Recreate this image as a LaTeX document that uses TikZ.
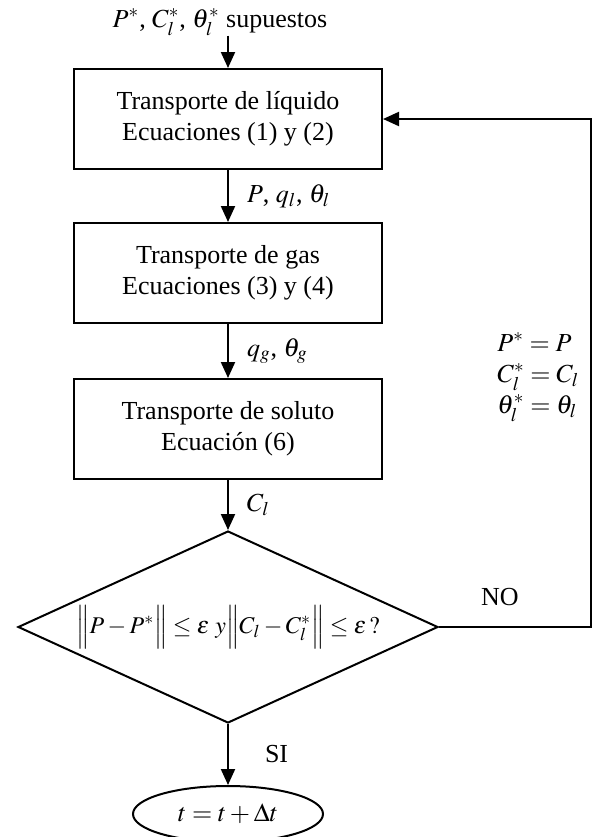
\documentclass[tikz,border=0pt,12pt]{standalone}
\usepackage{amsmath}
\usepackage{mathptmx}
\usepackage{fontspec}
\setmainfont{Liberation Serif}
\usepackage{tikz}
\usetikzlibrary{shapes.geometric, arrows.meta, positioning}
\tikzset{
  caja/.style={rectangle, draw=black, line width=1pt, fill=white,
               minimum width=154pt, minimum height=50pt, align=center,
               inner sep=2pt},
  decision/.style={diamond, draw=black, line width=1pt, aspect=2.2,
                   minimum width=210pt, minimum height=96pt, inner sep=0pt,
                   font=\fontsize{12pt}{14pt}\selectfont},
  fin/.style={ellipse, draw=black, line width=1pt,
              minimum width=95pt, minimum height=28pt, inner sep=0pt},
  flecha/.style={-{Triangle[length=8pt, width=7pt]}, line width=1pt},
  etiqueta/.style={right=9pt, inner sep=0pt},
}

\begin{document}
\begin{tikzpicture}[x=0.5pt, y=-0.5pt, font=\fontsize{13pt}{15.5pt}\selectfont]
  \useasboundingbox (0,0) rectangle (594,837);

  % Initial guess
  \node[inner sep=0pt] (sup) at (220,22)
    {$P^{*}$, $C_l^{*}$, $\theta_l^{*}$ supuestos};

  % Boxes
  \node[caja] (liq) at (228,119)
    {Transporte de líquido\\Ecuaciones (1) y (2)};
  \node[caja, below=26pt of liq] (gas)
    {Transporte de gas\\Ecuaciones (3) y (4)};
  \node[caja, below=27pt of gas] (sol)
    {Transporte de soluto\\Ecuación (6)};

  % Convergence test
  \node[decision, below=25pt of sol] (cond)
    {$\Bigl\| P - P^{*} \Bigr\| \le \varepsilon\ y
      \Bigl\| C_l - C_l^{*} \Bigr\| \le \varepsilon\,?$};
  \node[fin, below=30.5pt of cond] (tiempo) {$t = t + \Delta t$};

  % Update of the guess
  \coordinate (retorno) at (591,0);
  \node[anchor=west, align=left, inner sep=0pt] (actualiza) at (497,377)
    {$P^{*} = P$\\$C_l^{*} = C_l$\\$\theta_l^{*} = \theta_l$};

  % Arrows
  \draw[flecha] (sup.south -| liq.north) -- (liq.north);
  \draw[flecha] (liq) -- node[etiqueta]{$P$, $q_l$, $\theta_l$} (gas);
  \draw[flecha] (gas) -- node[etiqueta]{$q_g$, $\theta_g$} (sol);
  \draw[flecha] (sol) -- node[etiqueta]{$C_l$} (cond);
  \draw[flecha] (cond) -- node[right=18pt, inner sep=0pt]{SI} (tiempo);
  \draw[flecha] (cond.east) --
        node[pos=0.4, above=10pt, inner sep=0pt]{NO} (cond.east -| retorno)
        |- (liq.east);
\end{tikzpicture}
\end{document}
